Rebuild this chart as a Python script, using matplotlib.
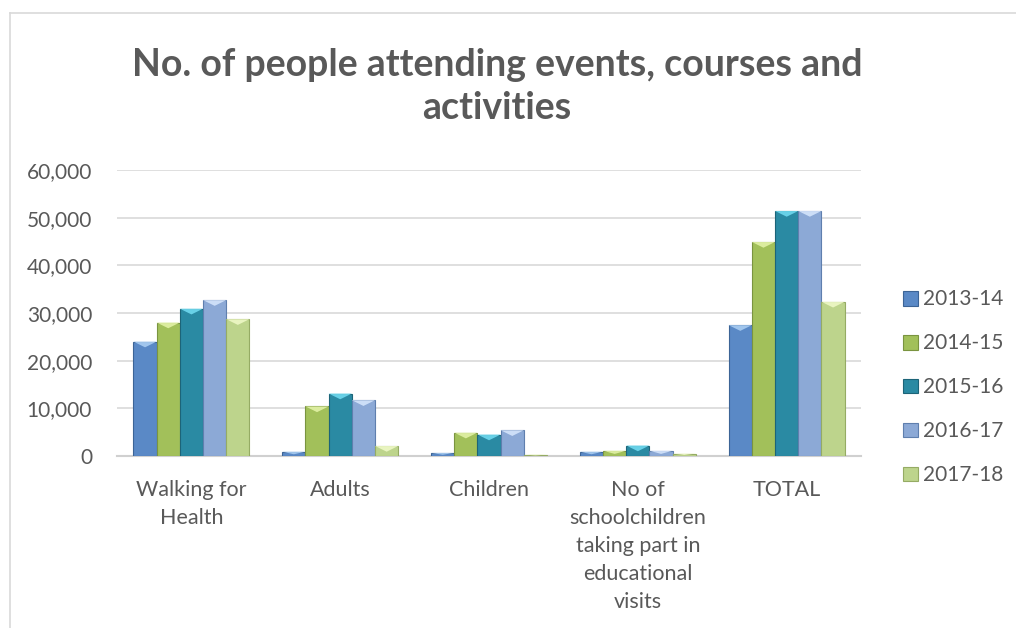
import matplotlib.pyplot as plt
import numpy as np
from matplotlib.patches import Polygon
from matplotlib.ticker import FuncFormatter

plt.rcParams["font.family"] = ["Lato", "DejaVu Sans"]

# Data
categories = [
    "Walking for\nHealth",
    "Adults",
    "Children",
    "No of\nschoolchildren\ntaking part in\neducational\nvisits",
    "TOTAL",
]
years = ["2013-14", "2014-15", "2015-16", "2016-17", "2017-18"]
v_2013_14 = [24000, 900, 650, 900, 27450]
v_2014_15 = [28000, 10400, 4900, 1100, 44900]
v_2015_16 = [30900, 13100, 4500, 2200, 51400]
v_2016_17 = [32700, 11700, 5400, 1100, 51400]
v_2017_18 = [28700, 2100, 300, 500, 32350]
series = [v_2013_14, v_2014_15, v_2015_16, v_2016_17, v_2017_18]

colors = ["#5a89c6", "#a2c05a", "#2a8aa3", "#8ca9d6", "#bdd48c"]
edges = ["#3c6496", "#7a9440", "#1c6478", "#5f7fae", "#95ab64"]
caps = ["#a9cdf2", "#e2f2a6", "#6fd9ef", "#d4e4fb", "#eef8c6"]
text_col = "#595959"

fig = plt.figure(figsize=(10.16, 6.28), dpi=100)
ax = fig.add_axes([0.1152, 0.2739, 0.7323, 0.4554])

x = np.arange(len(categories))
n = len(series)
group_w = 116 / 148.8
bar_w = group_w / n

for i, vals in enumerate(series):
    pos = x - group_w / 2 + bar_w * (i + 0.5)
    ax.bar(pos, vals, width=bar_w, color=colors[i], edgecolor=edges[i],
           linewidth=0.8, label=years[i], zorder=3)
    # bevelled top like the original
    for p, v in zip(pos, vals):
        h = min(1200, v * 0.6)
        tri = Polygon([(p - bar_w / 2, v), (p + bar_w / 2, v), (p, v - h)],
                      closed=True, facecolor=caps[i], edgecolor="none",
                      alpha=0.9, zorder=4)
        ax.add_patch(tri)

ax.set_xlim(-0.5, len(categories) - 0.5)
ax.set_ylim(0, 60000)
ax.set_yticks(np.arange(0, 60001, 10000))
ax.yaxis.set_major_formatter(FuncFormatter(lambda v, _: f"{int(v):,}"))
ax.set_xticks(x)
ax.set_xticklabels(categories, linespacing=1.5)
ax.tick_params(axis="both", length=0, colors=text_col, labelsize=15.5)
ax.tick_params(axis="y", pad=18, labelsize=15)
ax.tick_params(axis="x", pad=17)
ax.grid(axis="y", color="#d9d9d9", linewidth=1.2, zorder=0)
for s in ["top", "right", "left"]:
    ax.spines[s].set_visible(False)
ax.spines["bottom"].set_color("#d0d0d0")
ax.spines["bottom"].set_linewidth(1.5)

fig.text(0.4892, 0.862, "No. of people attending events, courses and\nactivities",
         ha="center", va="center", fontsize=27, fontweight="bold",
         color=text_col, linespacing=1.33)

leg = ax.legend(loc="center left", bbox_to_anchor=(1.042, 0.24), frameon=False,
                fontsize=15, labelspacing=1.15, handlelength=0.72,
                handleheight=0.72, handletextpad=0.25, borderpad=0)
for t in leg.get_texts():
    t.set_color(text_col)

# chart border (top and left visible)
fig.add_artist(plt.Line2D([0.0098, 1.0], [0.979, 0.979], color="#d9d9d9", lw=1.2))
fig.add_artist(plt.Line2D([0.0098, 0.0098], [0.0, 0.979], color="#d9d9d9", lw=1.2))

fig.savefig("out.png", dpi=100)
